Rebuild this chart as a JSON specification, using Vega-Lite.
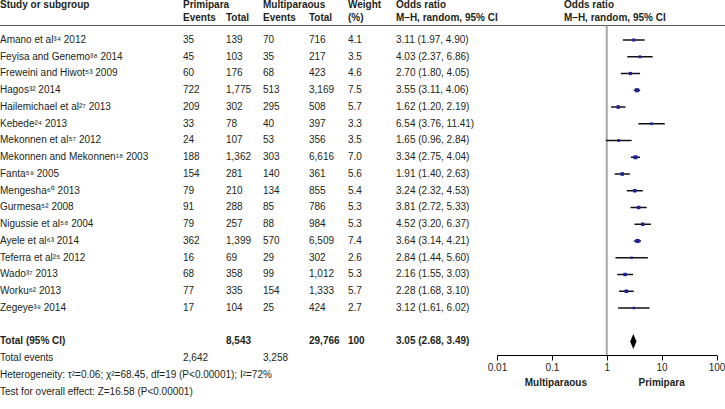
{
  "$schema": "https://vega.github.io/schema/vega-lite/v6.json",
  "autosize": "none",
  "width": 725,
  "height": 355,
  "padding": {"left": 0, "top": 0, "right": 0, "bottom": 54},
  "background": "white",
  "data": {"values": [{}]},
  "datasets": {
    "studies": [
      {"study": "Amano et al³⁴ 2012", "pe": 35, "pt": 139, "me": 70, "mt": 716, "w": 4.1, "ci": "3.11 (1.97, 4.90)", "or": 3.11, "lo": 1.97, "hi": 4.90, "row": 0},
      {"study": "Feyisa and Genemo³⁸ 2014", "pe": 45, "pt": 103, "me": 35, "mt": 217, "w": 3.5, "ci": "4.03 (2.37, 6.86)", "or": 4.03, "lo": 2.37, "hi": 6.86, "row": 1},
      {"study": "Freweini and Hiwot⁵³ 2009", "pe": 60, "pt": 176, "me": 68, "mt": 423, "w": 4.6, "ci": "2.70 (1.80, 4.05)", "or": 2.70, "lo": 1.80, "hi": 4.05, "row": 2},
      {"study": "Hagos³² 2014", "pe": 722, "pt": 1775, "me": 513, "mt": 3169, "w": 7.5, "ci": "3.55 (3.11, 4.06)", "or": 3.55, "lo": 3.11, "hi": 4.06, "row": 3},
      {"study": "Hailemichael et al²⁷ 2013", "pe": 209, "pt": 302, "me": 295, "mt": 508, "w": 5.7, "ci": "1.62 (1.20, 2.19)", "or": 1.62, "lo": 1.20, "hi": 2.19, "row": 4},
      {"study": "Kebede²⁴ 2013", "pe": 33, "pt": 78, "me": 40, "mt": 397, "w": 3.3, "ci": "6.54 (3.76, 11.41)", "or": 6.54, "lo": 3.76, "hi": 11.41, "row": 5},
      {"study": "Mekonnen et al⁵⁷ 2012", "pe": 24, "pt": 107, "me": 53, "mt": 356, "w": 3.5, "ci": "1.65 (0.96, 2.84)", "or": 1.65, "lo": 0.96, "hi": 2.84, "row": 6},
      {"study": "Mekonnen and Mekonnen¹⁸ 2003", "pe": 188, "pt": 1362, "me": 303, "mt": 6616, "w": 7.0, "ci": "3.34 (2.75, 4.04)", "or": 3.34, "lo": 2.75, "hi": 4.04, "row": 7},
      {"study": "Fanta⁵⁹ 2005", "pe": 154, "pt": 281, "me": 140, "mt": 361, "w": 5.6, "ci": "1.91 (1.40, 2.63)", "or": 1.91, "lo": 1.40, "hi": 2.63, "row": 8},
      {"study": "Mengesha⁶⁰ 2013", "pe": 79, "pt": 210, "me": 134, "mt": 855, "w": 5.4, "ci": "3.24 (2.32, 4.53)", "or": 3.24, "lo": 2.32, "hi": 4.53, "row": 9},
      {"study": "Gurmesa⁵² 2008", "pe": 91, "pt": 288, "me": 85, "mt": 786, "w": 5.3, "ci": "3.81 (2.72, 5.33)", "or": 3.81, "lo": 2.72, "hi": 5.33, "row": 10},
      {"study": "Nigussie et al⁵⁸ 2004", "pe": 79, "pt": 257, "me": 88, "mt": 984, "w": 5.3, "ci": "4.52 (3.20, 6.37)", "or": 4.52, "lo": 3.20, "hi": 6.37, "row": 11},
      {"study": "Ayele et al⁶³ 2014", "pe": 362, "pt": 1399, "me": 570, "mt": 6509, "w": 7.4, "ci": "3.64 (3.14, 4.21)", "or": 3.64, "lo": 3.14, "hi": 4.21, "row": 12},
      {"study": "Teferra et al²⁵ 2012", "pe": 16, "pt": 69, "me": 29, "mt": 302, "w": 2.6, "ci": "2.84 (1.44, 5.60)", "or": 2.84, "lo": 1.44, "hi": 5.60, "row": 13},
      {"study": "Wado³⁷ 2013", "pe": 68, "pt": 358, "me": 99, "mt": 1012, "w": 5.3, "ci": "2.16 (1.55, 3.03)", "or": 2.16, "lo": 1.55, "hi": 3.03, "row": 14},
      {"study": "Worku⁶² 2013", "pe": 77, "pt": 335, "me": 154, "mt": 1333, "w": 5.7, "ci": "2.28 (1.68, 3.10)", "or": 2.28, "lo": 1.68, "hi": 3.10, "row": 15},
      {"study": "Zegeye³⁹ 2014", "pe": 17, "pt": 104, "me": 25, "mt": 424, "w": 2.7, "ci": "3.12 (1.61, 6.02)", "or": 3.12, "lo": 1.61, "hi": 6.02, "row": 16}
    ],
    "summary": [
      {"label": "Total (95% CI)", "pt": 8543, "mt": 29766, "w": 100, "ci": "3.05 (2.68, 3.49)", "or": 3.05, "lo": 2.68, "hi": 3.49, "row": 18},
      {"label": "Total events", "pe": 2642, "me": 3258, "row": 19},
      {"label": "Heterogeneity: τ²=0.06; χ²=68.45, df=19 (P<0.00001); I²=72%", "row": 20},
      {"label": "Test for overall effect: Z=16.58 (P<0.00001)", "row": 21}
    ]
  },
  "resolve": {"scale": {"x": "independent", "y": "shared", "size": "independent"}, "axis": {"x": "independent"}},
  "layer": [
    {"mark": {"type": "rule", "color": "#555555", "strokeWidth": 1},
     "encoding": {"y": {"datum": -0.866, "type": "quantitative", "scale": {"type": "linear", "domain": [-2.388, 18.806], "reverse": true, "zero": false, "nice": false}, "axis": null}}},
    {"mark": {"type": "rule", "color": "#a8a8a8", "strokeWidth": 2},
     "encoding": {
       "x": {"datum": 1, "type": "quantitative", "scale": {"type": "log", "domain": [0.01, 100], "range": [497, 716.5]}, "axis": null},
       "y": {"datum": -0.866, "type": "quantitative", "scale": {"type": "linear", "domain": [-2.388, 18.806], "reverse": true, "zero": false, "nice": false}, "axis": null},
       "y2": {"datum": 18.806}}},
    {"data": {"name": "studies"},
     "mark": {"type": "rule", "color": "#111111", "strokeWidth": 1.5},
     "encoding": {
       "x": {"field": "lo", "type": "quantitative", "scale": {"type": "log", "domain": [0.01, 100], "range": [497, 716.5]},
             "axis": {"values": [0.01, 0.1, 1, 10, 100], "labelExpr": "format(datum.value, '~g')", "title": null, "grid": false, "domainColor": "#000000", "tickColor": "#000000", "domainWidth": 1, "tickWidth": 1, "tickSize": 5, "labelPadding": 2, "labelFont": "Liberation Sans", "labelFontSize": 10, "labelColor": "#231f20", "labelFlush": false, "labelOverlap": false}},
       "x2": {"field": "hi"},
       "y": {"field": "row", "type": "quantitative", "scale": {"type": "linear", "domain": [-2.388, 18.806], "reverse": true, "zero": false, "nice": false}, "axis": null}}},
    {"data": {"name": "studies"},
     "mark": {"type": "point", "shape": "square", "filled": true, "color": "#1f1fa0", "opacity": 1},
     "encoding": {
       "x": {"field": "or", "type": "quantitative", "scale": {"type": "log", "domain": [0.01, 100], "range": [497, 716.5]}, "axis": null},
       "y": {"field": "row", "type": "quantitative", "scale": {"type": "linear", "domain": [-2.388, 18.806], "reverse": true, "zero": false, "nice": false}, "axis": null},
       "size": {"field": "w", "type": "quantitative", "scale": {"domain": [0, 8], "range": [0, 18], "zero": true}, "legend": null}}},
    {"data": {"name": "summary"},
     "transform": [{"filter": "isValid(datum.or)"}],
     "mark": {"type": "point", "shape": "M-1,0L0,-2.4L1,0L0,2.4Z", "filled": true, "color": "#000000", "size": 40, "opacity": 1},
     "encoding": {
       "x": {"field": "or", "type": "quantitative", "scale": {"type": "log", "domain": [0.01, 100], "range": [497, 716.5]}, "axis": null},
       "y": {"field": "row", "type": "quantitative", "scale": {"type": "linear", "domain": [-2.388, 18.806], "reverse": true, "zero": false, "nice": false}, "axis": null}}},

    {"mark": {"type": "text", "fontWeight": "bold", "align": "center", "dx": 4},
     "encoding": {"x": {"datum": 0.1, "type": "quantitative", "scale": {"type": "log", "domain": [0.01, 100], "range": [497, 716.5]}, "axis": null},
       "y": {"datum": 20.5, "type": "quantitative", "scale": {"type": "linear", "domain": [-2.388, 18.806], "reverse": true, "zero": false, "nice": false}, "axis": null},
       "text": {"value": "Multiparaous"}}},
    {"mark": {"type": "text", "fontWeight": "bold", "align": "center"},
     "encoding": {"x": {"datum": 10, "type": "quantitative", "scale": {"type": "log", "domain": [0.01, 100], "range": [497, 716.5]}, "axis": null},
       "y": {"datum": 20.5, "type": "quantitative", "scale": {"type": "linear", "domain": [-2.388, 18.806], "reverse": true, "zero": false, "nice": false}, "axis": null},
       "text": {"value": "Primipara"}}},

    {"mark": {"type": "text", "fontWeight": "bold"},
     "encoding": {"x": {"datum": 0, "type": "quantitative", "scale": {"domain": [0, 725], "zero": false, "nice": false}, "axis": null},
       "y": {"datum": -2.06, "type": "quantitative", "scale": {"type": "linear", "domain": [-2.388, 18.806], "reverse": true, "zero": false, "nice": false}, "axis": null},
       "text": {"value": "Study or subgroup"}}},
    {"mark": {"type": "text", "fontWeight": "bold"},
     "encoding": {"x": {"datum": 183, "type": "quantitative", "scale": {"domain": [0, 725], "zero": false, "nice": false}, "axis": null},
       "y": {"datum": -2.06, "type": "quantitative", "scale": {"type": "linear", "domain": [-2.388, 18.806], "reverse": true, "zero": false, "nice": false}, "axis": null},
       "text": {"value": "Primipara"}}},
    {"mark": {"type": "text", "fontWeight": "bold"},
     "encoding": {"x": {"datum": 263, "type": "quantitative", "scale": {"domain": [0, 725], "zero": false, "nice": false}, "axis": null},
       "y": {"datum": -2.06, "type": "quantitative", "scale": {"type": "linear", "domain": [-2.388, 18.806], "reverse": true, "zero": false, "nice": false}, "axis": null},
       "text": {"value": "Multiparaous"}}},
    {"mark": {"type": "text", "fontWeight": "bold"},
     "encoding": {"x": {"datum": 348, "type": "quantitative", "scale": {"domain": [0, 725], "zero": false, "nice": false}, "axis": null},
       "y": {"datum": -2.06, "type": "quantitative", "scale": {"type": "linear", "domain": [-2.388, 18.806], "reverse": true, "zero": false, "nice": false}, "axis": null},
       "text": {"value": "Weight"}}},
    {"mark": {"type": "text", "fontWeight": "bold"},
     "encoding": {"x": {"datum": 396, "type": "quantitative", "scale": {"domain": [0, 725], "zero": false, "nice": false}, "axis": null},
       "y": {"datum": -2.06, "type": "quantitative", "scale": {"type": "linear", "domain": [-2.388, 18.806], "reverse": true, "zero": false, "nice": false}, "axis": null},
       "text": {"value": "Odds ratio"}}},
    {"mark": {"type": "text", "fontWeight": "bold"},
     "encoding": {"x": {"datum": 564, "type": "quantitative", "scale": {"domain": [0, 725], "zero": false, "nice": false}, "axis": null},
       "y": {"datum": -2.06, "type": "quantitative", "scale": {"type": "linear", "domain": [-2.388, 18.806], "reverse": true, "zero": false, "nice": false}, "axis": null},
       "text": {"value": "Odds ratio"}}},
    {"mark": {"type": "text", "fontWeight": "bold"},
     "encoding": {"x": {"datum": 183, "type": "quantitative", "scale": {"domain": [0, 725], "zero": false, "nice": false}, "axis": null},
       "y": {"datum": -1.343, "type": "quantitative", "scale": {"type": "linear", "domain": [-2.388, 18.806], "reverse": true, "zero": false, "nice": false}, "axis": null},
       "text": {"value": "Events"}}},
    {"mark": {"type": "text", "fontWeight": "bold"},
     "encoding": {"x": {"datum": 226, "type": "quantitative", "scale": {"domain": [0, 725], "zero": false, "nice": false}, "axis": null},
       "y": {"datum": -1.343, "type": "quantitative", "scale": {"type": "linear", "domain": [-2.388, 18.806], "reverse": true, "zero": false, "nice": false}, "axis": null},
       "text": {"value": "Total"}}},
    {"mark": {"type": "text", "fontWeight": "bold"},
     "encoding": {"x": {"datum": 263, "type": "quantitative", "scale": {"domain": [0, 725], "zero": false, "nice": false}, "axis": null},
       "y": {"datum": -1.343, "type": "quantitative", "scale": {"type": "linear", "domain": [-2.388, 18.806], "reverse": true, "zero": false, "nice": false}, "axis": null},
       "text": {"value": "Events"}}},
    {"mark": {"type": "text", "fontWeight": "bold"},
     "encoding": {"x": {"datum": 309, "type": "quantitative", "scale": {"domain": [0, 725], "zero": false, "nice": false}, "axis": null},
       "y": {"datum": -1.343, "type": "quantitative", "scale": {"type": "linear", "domain": [-2.388, 18.806], "reverse": true, "zero": false, "nice": false}, "axis": null},
       "text": {"value": "Total"}}},
    {"mark": {"type": "text", "fontWeight": "bold"},
     "encoding": {"x": {"datum": 348, "type": "quantitative", "scale": {"domain": [0, 725], "zero": false, "nice": false}, "axis": null},
       "y": {"datum": -1.343, "type": "quantitative", "scale": {"type": "linear", "domain": [-2.388, 18.806], "reverse": true, "zero": false, "nice": false}, "axis": null},
       "text": {"value": "(%)"}}},
    {"mark": {"type": "text", "fontWeight": "bold"},
     "encoding": {"x": {"datum": 396, "type": "quantitative", "scale": {"domain": [0, 725], "zero": false, "nice": false}, "axis": null},
       "y": {"datum": -1.343, "type": "quantitative", "scale": {"type": "linear", "domain": [-2.388, 18.806], "reverse": true, "zero": false, "nice": false}, "axis": null},
       "text": {"value": "M–H, random, 95% CI"}}},
    {"mark": {"type": "text", "fontWeight": "bold"},
     "encoding": {"x": {"datum": 564, "type": "quantitative", "scale": {"domain": [0, 725], "zero": false, "nice": false}, "axis": null},
       "y": {"datum": -1.343, "type": "quantitative", "scale": {"type": "linear", "domain": [-2.388, 18.806], "reverse": true, "zero": false, "nice": false}, "axis": null},
       "text": {"value": "M–H, random, 95% CI"}}},

    {"data": {"name": "studies"}, "mark": {"type": "text"},
     "encoding": {"x": {"datum": 0, "type": "quantitative", "scale": {"domain": [0, 725], "zero": false, "nice": false}, "axis": null},
       "y": {"field": "row", "type": "quantitative", "scale": {"type": "linear", "domain": [-2.388, 18.806], "reverse": true, "zero": false, "nice": false}, "axis": null},
       "text": {"field": "study"}}},
    {"data": {"name": "studies"}, "mark": {"type": "text"},
     "encoding": {"x": {"datum": 183, "type": "quantitative", "scale": {"domain": [0, 725], "zero": false, "nice": false}, "axis": null},
       "y": {"field": "row", "type": "quantitative", "scale": {"type": "linear", "domain": [-2.388, 18.806], "reverse": true, "zero": false, "nice": false}, "axis": null},
       "text": {"field": "pe", "type": "quantitative", "format": ","}}},
    {"data": {"name": "studies"}, "mark": {"type": "text"},
     "encoding": {"x": {"datum": 226, "type": "quantitative", "scale": {"domain": [0, 725], "zero": false, "nice": false}, "axis": null},
       "y": {"field": "row", "type": "quantitative", "scale": {"type": "linear", "domain": [-2.388, 18.806], "reverse": true, "zero": false, "nice": false}, "axis": null},
       "text": {"field": "pt", "type": "quantitative", "format": ","}}},
    {"data": {"name": "studies"}, "mark": {"type": "text"},
     "encoding": {"x": {"datum": 263, "type": "quantitative", "scale": {"domain": [0, 725], "zero": false, "nice": false}, "axis": null},
       "y": {"field": "row", "type": "quantitative", "scale": {"type": "linear", "domain": [-2.388, 18.806], "reverse": true, "zero": false, "nice": false}, "axis": null},
       "text": {"field": "me", "type": "quantitative", "format": ","}}},
    {"data": {"name": "studies"}, "mark": {"type": "text"},
     "encoding": {"x": {"datum": 309, "type": "quantitative", "scale": {"domain": [0, 725], "zero": false, "nice": false}, "axis": null},
       "y": {"field": "row", "type": "quantitative", "scale": {"type": "linear", "domain": [-2.388, 18.806], "reverse": true, "zero": false, "nice": false}, "axis": null},
       "text": {"field": "mt", "type": "quantitative", "format": ","}}},
    {"data": {"name": "studies"}, "mark": {"type": "text"},
     "encoding": {"x": {"datum": 348, "type": "quantitative", "scale": {"domain": [0, 725], "zero": false, "nice": false}, "axis": null},
       "y": {"field": "row", "type": "quantitative", "scale": {"type": "linear", "domain": [-2.388, 18.806], "reverse": true, "zero": false, "nice": false}, "axis": null},
       "text": {"field": "w", "type": "quantitative", "format": ".1f"}}},
    {"data": {"name": "studies"}, "mark": {"type": "text"},
     "encoding": {"x": {"datum": 396, "type": "quantitative", "scale": {"domain": [0, 725], "zero": false, "nice": false}, "axis": null},
       "y": {"field": "row", "type": "quantitative", "scale": {"type": "linear", "domain": [-2.388, 18.806], "reverse": true, "zero": false, "nice": false}, "axis": null},
       "text": {"field": "ci"}}},

    {"data": {"name": "summary"}, "transform": [{"filter": "datum.row != 18"}], "mark": {"type": "text"},
     "encoding": {"x": {"datum": 0, "type": "quantitative", "scale": {"domain": [0, 725], "zero": false, "nice": false}, "axis": null},
       "y": {"field": "row", "type": "quantitative", "scale": {"type": "linear", "domain": [-2.388, 18.806], "reverse": true, "zero": false, "nice": false}, "axis": null},
       "text": {"field": "label"}}},
    {"data": {"name": "summary"}, "transform": [{"filter": "datum.row == 18"}], "mark": {"type": "text", "fontWeight": "bold"},
     "encoding": {"x": {"datum": 0, "type": "quantitative", "scale": {"domain": [0, 725], "zero": false, "nice": false}, "axis": null},
       "y": {"field": "row", "type": "quantitative", "scale": {"type": "linear", "domain": [-2.388, 18.806], "reverse": true, "zero": false, "nice": false}, "axis": null},
       "text": {"field": "label"}}},
    {"data": {"name": "summary"}, "transform": [{"filter": "isValid(datum.pe)"}], "mark": {"type": "text"},
     "encoding": {"x": {"datum": 183, "type": "quantitative", "scale": {"domain": [0, 725], "zero": false, "nice": false}, "axis": null},
       "y": {"field": "row", "type": "quantitative", "scale": {"type": "linear", "domain": [-2.388, 18.806], "reverse": true, "zero": false, "nice": false}, "axis": null},
       "text": {"field": "pe", "type": "quantitative", "format": ","}}},
    {"data": {"name": "summary"}, "transform": [{"filter": "isValid(datum.me)"}], "mark": {"type": "text"},
     "encoding": {"x": {"datum": 263, "type": "quantitative", "scale": {"domain": [0, 725], "zero": false, "nice": false}, "axis": null},
       "y": {"field": "row", "type": "quantitative", "scale": {"type": "linear", "domain": [-2.388, 18.806], "reverse": true, "zero": false, "nice": false}, "axis": null},
       "text": {"field": "me", "type": "quantitative", "format": ","}}},
    {"data": {"name": "summary"}, "transform": [{"filter": "isValid(datum.pt)"}], "mark": {"type": "text", "fontWeight": "bold"},
     "encoding": {"x": {"datum": 226, "type": "quantitative", "scale": {"domain": [0, 725], "zero": false, "nice": false}, "axis": null},
       "y": {"field": "row", "type": "quantitative", "scale": {"type": "linear", "domain": [-2.388, 18.806], "reverse": true, "zero": false, "nice": false}, "axis": null},
       "text": {"field": "pt", "type": "quantitative", "format": ","}}},
    {"data": {"name": "summary"}, "transform": [{"filter": "isValid(datum.mt)"}], "mark": {"type": "text", "fontWeight": "bold"},
     "encoding": {"x": {"datum": 309, "type": "quantitative", "scale": {"domain": [0, 725], "zero": false, "nice": false}, "axis": null},
       "y": {"field": "row", "type": "quantitative", "scale": {"type": "linear", "domain": [-2.388, 18.806], "reverse": true, "zero": false, "nice": false}, "axis": null},
       "text": {"field": "mt", "type": "quantitative", "format": ","}}},
    {"data": {"name": "summary"}, "transform": [{"filter": "isValid(datum.w)"}], "mark": {"type": "text", "fontWeight": "bold"},
     "encoding": {"x": {"datum": 348, "type": "quantitative", "scale": {"domain": [0, 725], "zero": false, "nice": false}, "axis": null},
       "y": {"field": "row", "type": "quantitative", "scale": {"type": "linear", "domain": [-2.388, 18.806], "reverse": true, "zero": false, "nice": false}, "axis": null},
       "text": {"field": "w", "type": "quantitative", "format": "d"}}},
    {"data": {"name": "summary"}, "transform": [{"filter": "isValid(datum.ci)"}], "mark": {"type": "text", "fontWeight": "bold"},
     "encoding": {"x": {"datum": 396, "type": "quantitative", "scale": {"domain": [0, 725], "zero": false, "nice": false}, "axis": null},
       "y": {"field": "row", "type": "quantitative", "scale": {"type": "linear", "domain": [-2.388, 18.806], "reverse": true, "zero": false, "nice": false}, "axis": null},
       "text": {"field": "ci"}}}
  ],
  "config": {
    "view": {"stroke": null},
    "text": {"font": "Liberation Sans", "fontSize": 10, "align": "left", "baseline": "middle", "color": "#231f20"},
    "point": {"opacity": 1}
  }
}
